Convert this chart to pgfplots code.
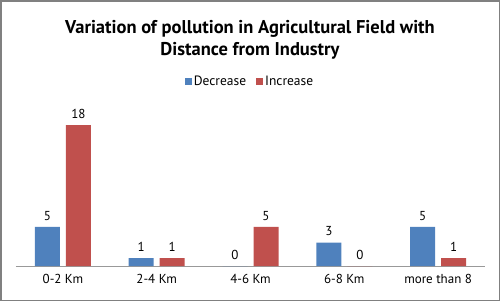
\documentclass[border=0pt]{standalone}
\usepackage{pgfplots}
\pgfplotsset{compat=1.18}
\usepackage{fontspec}
\setmainfont{PT Sans}
\definecolor{dblue}{HTML}{4F81BD}
\definecolor{dred}{HTML}{C0504D}
\pgfplotsset{sqleg/.style={legend image code/.code={\fill[##1] (0pt,-3.5pt) rectangle (7pt,3.5pt);}}}
\begin{document}
\begin{tikzpicture}
\useasboundingbox (0,0) rectangle (500pt,301pt);
\draw[black!50, line width=1.5pt] (0.75pt,0.75pt) rectangle (499.25pt,300.25pt);
\node[align=center, font=\fontsize{18.5}{22}\selectfont\bfseries] at (250pt,261pt) {Variation of pollution in Agricultural Field with\\Distance from Industry};
\begin{axis}[
  at={(16pt,35pt)}, anchor=south west, scale only axis,
  width=469pt, height=156.6pt,
  xmin=-0.5, xmax=4.5, ymin=0, ymax=20,
  ybar=6pt, bar width=25pt,
  axis x line*=bottom, axis y line=none,
  axis line style={black!40},
  xtick=data, xticklabels={0-2 Km,2-4 Km,4-6 Km,6-8 Km,more than 8},
  major tick length=0pt,
  ytick=\empty,
  tick label style={font=\fontsize{13}{15}\selectfont},
  xticklabel style={yshift=-5pt},
  /pgf/number format/assume math mode=true,
  nodes near coords,
  every node near coord/.append style={font=\fontsize{13}{15}\selectfont, yshift=3pt, text=black},
  legend style={draw=none, at={(0.499,1.18)}, anchor=center, font=\fontsize{13.5}{15}\selectfont, legend columns=2, /tikz/every even column/.append style={column sep=8pt}},
]
\addplot[fill=dblue, draw=none, sqleg] coordinates {(0,5) (1,1) (2,0) (3,3) (4,5)};
\addplot[fill=dred, draw=none, sqleg] coordinates {(0,18) (1,1) (2,5) (3,0) (4,1)};
\legend{Decrease,Increase}
\end{axis}
\end{tikzpicture}
\end{document}
